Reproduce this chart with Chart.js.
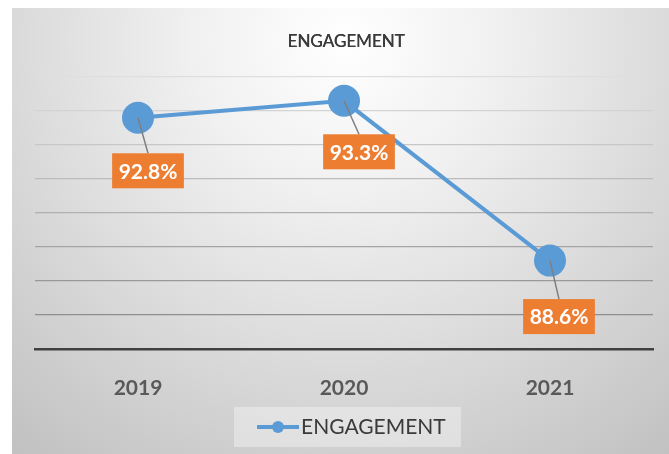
<!DOCTYPE html>
<html>
<head>
<meta charset="utf-8">
<script src="https://cdn.jsdelivr.net/npm/chart.js@4"></script>
<style>
  html, body { margin: 0; padding: 0; background: #fff; }
  #wrap { width: 669px; height: 454px; }
</style>
</head>
<body>
<div id="wrap"><canvas id="engagement-chart"></canvas></div>
<script>
const years = ["2019", "2020", "2021"];
const engagement = [92.8, 93.3, 88.6];
const yTicks = [86, 87, 88, 89, 90, 91, 92, 93, 94];
const chartTitle = "ENGAGEMENT";
const seriesName = "ENGAGEMENT";

// where each orange label sits, relative to its point (px)
const labelOffsets = [[10, 53], [15, 51], [9, 56]];

const FONT = "Lato, 'Open Sans', sans-serif";

const backgroundPlugin = {
  id: "bg",
  beforeDraw(chart) {
    const ctx = chart.ctx;
    ctx.save();
    ctx.fillStyle = "#fff";
    ctx.fillRect(0, 0, chart.width, chart.height);
    const g = ctx.createRadialGradient(345, 40, 0, 345, 40, 520);
    g.addColorStop(0, "#ffffff");
    g.addColorStop(0.3, "#f0f0f0");
    g.addColorStop(1, "#c2c2c2");
    ctx.fillStyle = g;
    ctx.fillRect(12, 8, chart.width - 12, chart.height - 8);
    ctx.restore();
  }
};

const labelsPlugin = {
  id: "excelLabels",
  afterDatasetsDraw(chart) {
    const ctx = chart.ctx;
    const meta = chart.getDatasetMeta(0);
    ctx.save();
    ctx.font = "bold 21px " + FONT;
    meta.data.forEach((pt, i) => {
      const text = engagement[i].toFixed(1) + "%";
      const w = ctx.measureText(text).width + 13;
      const h = 35;
      const cx = pt.x + labelOffsets[i][0];
      const cy = pt.y + labelOffsets[i][1];
      // leader line
      ctx.strokeStyle = "#7f7f7f";
      ctx.lineWidth = 1.5;
      ctx.beginPath();
      ctx.moveTo(pt.x, pt.y);
      ctx.lineTo(cx, cy - h / 2);
      ctx.stroke();
      ctx.fillStyle = "#ED7D31";
      ctx.fillRect(cx - w / 2, cy - h / 2, w, h);
      ctx.fillStyle = "#fff";
      ctx.textAlign = "center";
      ctx.textBaseline = "middle";
      ctx.fillText(text, cx, cy + 1);
    });
    ctx.restore();
  },
  afterDraw(chart) {
    const ctx = chart.ctx;
    ctx.save();
    // title
    ctx.fillStyle = "#3a3a3a";
    ctx.font = "17px " + FONT;
    ctx.textAlign = "center";
    ctx.textBaseline = "middle";
    ctx.fillText(chartTitle, 346, 42);
    ctx.fillText(chartTitle, 346.4, 42);
    // legend
    ctx.fillStyle = "rgba(255,255,255,0.35)";
    ctx.fillRect(234, 407, 227, 40);
    ctx.strokeStyle = "#5B9BD5";
    ctx.lineWidth = 4;
    ctx.beginPath();
    ctx.moveTo(257, 427);
    ctx.lineTo(299, 427);
    ctx.stroke();
    ctx.fillStyle = "#5B9BD5";
    ctx.beginPath();
    ctx.arc(278, 427, 6, 0, Math.PI * 2);
    ctx.fill();
    ctx.fillStyle = "#3a3a3a";
    ctx.font = "21px " + FONT;
    ctx.textAlign = "left";
    ctx.fillText(seriesName, 301, 427);
    ctx.restore();
  }
};

function gridColor(ctx) {
  const v = ctx.tick ? ctx.tick.value : 0;
  if (v <= yTicks[0]) return "rgba(0,0,0,0)";
  const t = (yTicks[yTicks.length - 1] - v) / (yTicks.length - 2);
  const c = Math.round(222 - t * 80);
  return `rgb(${c},${c},${c})`;
}

new Chart(document.getElementById("engagement-chart").getContext("2d"), {
  type: "line",
  data: {
    labels: years,
    datasets: [{
      label: seriesName,
      data: engagement,
      borderColor: "#5B9BD5",
      backgroundColor: "#5B9BD5",
      borderWidth: 4,
      pointRadius: 16,
      pointHoverRadius: 16,
      pointBorderWidth: 0,
      pointBackgroundColor: "#5B9BD5",
      tension: 0,
      clip: false
    }]
  },
  options: {
    responsive: true,
    maintainAspectRatio: false,
    animation: false,
    devicePixelRatio: 1,
    layout: { padding: { left: 35, right: 9, top: 77, bottom: 0 } },
    plugins: {
      legend: { display: false },
      title: { display: false },
      tooltip: { enabled: false }
    },
    scales: {
      x: {
        offset: true,
        grid: { display: false },
        border: { display: true, color: "#404040", width: 2.5 },
        ticks: {
          color: "#595959",
          font: { family: FONT, size: 21, weight: "bold" },
          padding: 19
        },
        afterFit(scale) { scale.height = 105; }
      },
      y: {
        min: yTicks[0],
        max: yTicks[yTicks.length - 1],
        ticks: { display: false, stepSize: 1 },
        border: { display: false },
        grid: { color: gridColor, lineWidth: 1.3, drawTicks: false },
        afterFit(scale) { scale.width = 0; }
      }
    }
  },
  plugins: [backgroundPlugin, labelsPlugin]
});
</script>
</body>
</html>
